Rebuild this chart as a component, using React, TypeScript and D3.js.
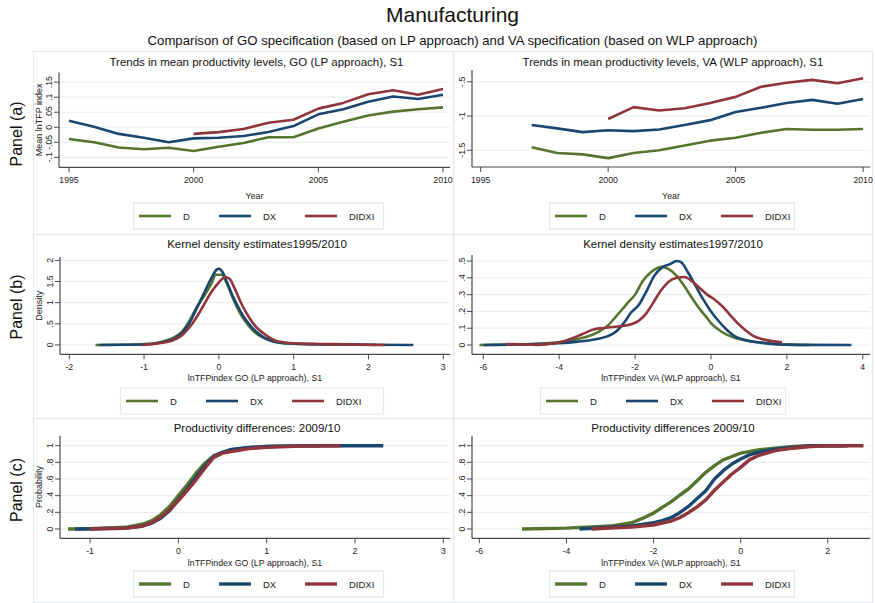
import React from 'react';
import * as d3 from 'd3';

const W = 875;
const H = 603;
const FONT = '"Liberation Sans", Arial, Helvetica, sans-serif';

const seriesNames = ['D', 'DX', 'DIDXI'];
const seriesColors = ['#55752f', '#1a476f', '#90353b'];

// Panel (a): mean productivity levels by year
const goYears = [1995, 1996, 1997, 1998, 1999, 2000, 2001, 2002, 2003, 2004, 2005, 2006, 2007, 2008, 2009, 2010];
const goD = [-0.039, -0.05, -0.067, -0.073, -0.068, -0.079, -0.065, -0.052, -0.033, -0.033, -0.004, 0.018, 0.039, 0.052, 0.06, 0.066];
const goDX = [0.022, 0.002, -0.022, -0.035, -0.05, -0.037, -0.035, -0.029, -0.016, 0.004, 0.043, 0.06, 0.085, 0.102, 0.094, 0.108];
const goDidxiYears = [2000, 2001, 2002, 2003, 2004, 2005, 2006, 2007, 2008, 2009, 2010];
const goDIDXI = [-0.022, -0.016, -0.006, 0.015, 0.025, 0.062, 0.081, 0.11, 0.123, 0.108, 0.127];

const vaYears = [1997, 1998, 1999, 2000, 2001, 2002, 2003, 2004, 2005, 2006, 2007, 2008, 2009, 2010];
const vaD = [-1.457, -1.54, -1.56, -1.615, -1.54, -1.5, -1.43, -1.36, -1.317, -1.245, -1.19, -1.2, -1.2, -1.19];
const vaDX = [-1.13, -1.18, -1.235, -1.207, -1.22, -1.197, -1.13, -1.06, -0.94, -0.88, -0.81, -0.764, -0.82, -0.75];
const vaDidxiYears = [2000, 2001, 2002, 2003, 2004, 2005, 2006, 2007, 2008, 2009, 2010];
const vaDIDXI = [-1.043, -0.87, -0.918, -0.885, -0.81, -0.72, -0.572, -0.514, -0.471, -0.52, -0.447];

// Panel (b): kernel density estimates, [lnTFP, density]
const kdGoD: [number, number][] = [
  [-1.65, 0], [-1.2, 0.005], [-1.0, 0.02], [-0.8, 0.06], [-0.6, 0.18], [-0.5, 0.3], [-0.4, 0.55], [-0.3, 0.88],
  [-0.2, 1.15], [-0.1, 1.45], [-0.04, 1.66], [0.04, 1.66], [0.1, 1.48], [0.2, 1.05], [0.3, 0.7], [0.4, 0.45],
  [0.5, 0.27], [0.6, 0.17], [0.7, 0.1], [0.8, 0.06], [1.0, 0.03], [1.2, 0.02], [1.5, 0.01], [1.8, 0.005], [2.1, 0],
];
const kdGoDX: [number, number][] = [
  [-1.6, 0], [-1.0, 0.01], [-0.8, 0.05], [-0.6, 0.15], [-0.5, 0.27], [-0.4, 0.5], [-0.3, 0.85], [-0.2, 1.22],
  [-0.1, 1.58], [-0.03, 1.78], [0.0, 1.8], [0.05, 1.72], [0.1, 1.52], [0.2, 1.1], [0.3, 0.76], [0.4, 0.5],
  [0.5, 0.31], [0.6, 0.18], [0.7, 0.1], [0.8, 0.06], [1.0, 0.03], [1.5, 0.01], [2.0, 0.003], [2.6, 0],
];
const kdGoDIDXI: [number, number][] = [
  [-1.02, 0], [-0.8, 0.04], [-0.6, 0.12], [-0.5, 0.22], [-0.4, 0.4], [-0.3, 0.65], [-0.2, 0.95], [-0.1, 1.25],
  [0.0, 1.48], [0.05, 1.57], [0.1, 1.6], [0.15, 1.55], [0.2, 1.38], [0.3, 0.98], [0.4, 0.66], [0.5, 0.42],
  [0.6, 0.27], [0.7, 0.15], [0.8, 0.08], [1.0, 0.04], [1.5, 0.02], [2.0, 0.005], [2.22, 0],
];
const kdVaD: [number, number][] = [
  [-6.1, 0], [-5, 0.004], [-4, 0.016], [-3.5, 0.036], [-3, 0.074], [-2.7, 0.12], [-2.5, 0.17], [-2.2, 0.25],
  [-2, 0.3], [-1.8, 0.38], [-1.6, 0.43], [-1.4, 0.46], [-1.3, 0.465], [-1.1, 0.45], [-0.9, 0.41], [-0.7, 0.35],
  [-0.5, 0.28], [-0.3, 0.215], [-0.1, 0.16], [0, 0.13], [0.3, 0.076], [0.6, 0.044], [1.0, 0.024], [1.5, 0.01],
  [2, 0.002], [2.6, 0],
];
const kdVaDX: [number, number][] = [
  [-6.0, 0], [-5, 0.003], [-4, 0.01], [-3.5, 0.02], [-3, 0.036], [-2.7, 0.054], [-2.5, 0.08], [-2.3, 0.13],
  [-2.1, 0.195], [-1.9, 0.24], [-1.7, 0.32], [-1.5, 0.41], [-1.3, 0.46], [-1.1, 0.48], [-0.9, 0.5], [-0.8, 0.495],
  [-0.6, 0.43], [-0.4, 0.35], [-0.2, 0.27], [0, 0.2], [0.2, 0.143], [0.4, 0.094], [0.6, 0.056], [0.9, 0.03],
  [1.3, 0.014], [1.8, 0.004], [2.5, 0.001], [3.7, 0],
];
const kdVaDIDXI: [number, number][] = [
  [-5.4, 0.005], [-5, 0.004], [-4.6, 0.001], [-4.2, 0.008], [-4, 0.016], [-3.7, 0.036], [-3.4, 0.064],
  [-3.1, 0.092], [-2.9, 0.1], [-2.6, 0.107], [-2.3, 0.115], [-2.1, 0.124], [-1.9, 0.145], [-1.7, 0.19],
  [-1.5, 0.26], [-1.3, 0.33], [-1.1, 0.38], [-0.9, 0.4], [-0.7, 0.405], [-0.5, 0.38], [-0.3, 0.34], [-0.1, 0.3],
  [0.1, 0.27], [0.3, 0.23], [0.5, 0.18], [0.7, 0.13], [0.9, 0.09], [1.1, 0.056], [1.4, 0.032], [1.7, 0.02],
  [1.87, 0.016],
];

// Panel (c): cumulative distributions, [lnTFP, probability]
const cdGoD: [number, number][] = [
  [-1.25, 0], [-1.0, 0.003], [-0.6, 0.02], [-0.4, 0.06], [-0.3, 0.1], [-0.2, 0.17], [-0.1, 0.27], [0, 0.4],
  [0.1, 0.53], [0.2, 0.67], [0.3, 0.79], [0.4, 0.88], [0.5, 0.92], [0.6, 0.95], [0.8, 0.975], [1.0, 0.99],
  [1.4, 1.0], [1.6, 1.0],
];
const cdGoDX: [number, number][] = [
  [-1.17, 0], [-0.6, 0.01], [-0.4, 0.036], [-0.3, 0.07], [-0.2, 0.13], [-0.1, 0.22], [0, 0.35], [0.1, 0.48],
  [0.2, 0.62], [0.3, 0.76], [0.4, 0.87], [0.5, 0.92], [0.6, 0.955], [0.8, 0.98], [1.0, 0.99], [1.5, 1.0],
  [2.32, 1.0],
];
const cdGoDIDXI: [number, number][] = [
  [-1.0, 0], [-0.6, 0.008], [-0.4, 0.036], [-0.3, 0.076], [-0.2, 0.14], [-0.1, 0.23], [0, 0.34], [0.1, 0.46],
  [0.2, 0.59], [0.3, 0.73], [0.4, 0.86], [0.5, 0.91], [0.6, 0.93], [0.8, 0.965], [1.0, 0.98], [1.4, 0.995],
  [1.83, 1.0],
];
const cdVaD: [number, number][] = [
  [-5.02, 0], [-4, 0.01], [-3, 0.035], [-2.5, 0.075], [-2.2, 0.14], [-2, 0.19], [-1.8, 0.26], [-1.6, 0.325],
  [-1.4, 0.405], [-1.2, 0.48], [-1.0, 0.58], [-0.8, 0.68], [-0.6, 0.76], [-0.4, 0.83], [-0.2, 0.87], [0, 0.91],
  [0.4, 0.95], [0.8, 0.97], [1.2, 0.99], [1.6, 1.0], [2.4, 1.0],
];
const cdVaDX: [number, number][] = [
  [-3.7, 0], [-3, 0.02], [-2.5, 0.036], [-2, 0.075], [-1.8, 0.1], [-1.6, 0.135], [-1.4, 0.195], [-1.2, 0.27],
  [-1.0, 0.365], [-0.8, 0.46], [-0.6, 0.6], [-0.4, 0.7], [-0.2, 0.78], [0, 0.84], [0.2, 0.89], [0.4, 0.92],
  [0.8, 0.96], [1.2, 0.98], [1.6, 1.0], [2.46, 1.0],
];
const cdVaDIDXI: [number, number][] = [
  [-3.42, 0], [-3, 0.012], [-2.5, 0.024], [-2, 0.048], [-1.6, 0.095], [-1.4, 0.135], [-1.2, 0.195],
  [-1.0, 0.265], [-0.8, 0.35], [-0.6, 0.465], [-0.4, 0.565], [-0.2, 0.66], [0, 0.74], [0.2, 0.83], [0.4, 0.88],
  [0.6, 0.91], [0.8, 0.94], [1.2, 0.97], [1.6, 0.99], [2.0, 1.0], [2.82, 1.0],
];

// Axis ticks
const yearTicks = [1995, 2000, 2005, 2010];
const goLevelTicks = [-0.1, -0.05, 0, 0.05, 0.1, 0.15];
const vaLevelTicks = [-1.5, -1, -0.5];
const goDensityX = [-2, -1, 0, 1, 2, 3];
const goDensityY = [0, 0.5, 1, 1.5, 2];
const vaDensityX = [-6, -4, -2, 0, 2, 4];
const vaDensityY = [0, 0.1, 0.2, 0.3, 0.4, 0.5];
const goCdfX = [-1, 0, 1, 2, 3];
const vaCdfX = [-6, -4, -2, 0, 2];
const probTicks = [0, 0.2, 0.4, 0.6, 0.8, 1];

const zip = (xs: number[], ys: number[]): [number, number][] => xs.map((x, i) => [x, ys[i]]);

const fmt = (v: number) => String(v).replace(/^(-?)0\./, '$1.');

type Series = { pts: [number, number][] };

type PanelProps = {
  frame: [number, number, number, number];
  plot: { l: number; r: number; t: number; b: number };
  xDomain: [number, number];
  yDomain: [number, number];
  xTicks: number[];
  yTicks: number[];
  title: string;
  titleY: number;
  xTitle: string;
  xTitleY: number;
  yTitle?: string;
  series: Series[];
  legend: { x: number; y: number; w: number };
  lineWidth: number;
  smooth: boolean;
};

const GRID = '#e8eff1';
const FRAME = '#e2eaec';
const AXIS = '#4a4a4a';

function Panel(p: PanelProps) {
  const { plot } = p;
  const x = d3.scaleLinear().domain(p.xDomain).range([plot.l, plot.r]);
  const y = d3.scaleLinear().domain(p.yDomain).range([plot.b, plot.t]);
  const line = d3
    .line<[number, number]>()
    .x((d) => x(d[0]))
    .y((d) => y(d[1]))
    .curve(p.smooth ? d3.curveMonotoneX : d3.curveLinear);
  const [fx0, fy0, fx1, fy1] = p.frame;
  const cx = (plot.l + plot.r) / 2;
  const legItems = [6, 86, 172];
  const legH = 26;
  return (
    <g>
      <rect x={fx0 + 0.5} y={fy0 + 0.5} width={fx1 - fx0} height={fy1 - fy0} fill="none" stroke={FRAME} strokeWidth={1.2} />
      <text x={cx + 2} y={p.titleY} textAnchor="middle" fontSize={11.5} fill="#111">
        {p.title}
      </text>
      {p.yTicks.map((t) => (
        <line key={'g' + t} x1={plot.l} x2={plot.r} y1={y(t)} y2={y(t)} stroke={GRID} strokeWidth={1.2} />
      ))}
      {p.series.map((s, i) => (
        <path
          key={'s' + i}
          d={line(s.pts) || ''}
          fill="none"
          stroke={seriesColors[i]}
          strokeWidth={p.lineWidth}
          strokeLinejoin="round"
          strokeLinecap="butt"
        />
      ))}
      <line x1={plot.l} x2={plot.l} y1={plot.t} y2={plot.b} stroke={AXIS} strokeWidth={1.2} />
      <line x1={plot.l} x2={plot.r} y1={plot.b} y2={plot.b} stroke={AXIS} strokeWidth={1.2} />
      {p.yTicks.map((t) => (
        <g key={'yt' + t}>
          <line x1={plot.l - 5} x2={plot.l} y1={y(t)} y2={y(t)} stroke={AXIS} strokeWidth={1} />
          <text
            transform={`translate(${plot.l - 7},${y(t)}) rotate(-90)`}
            textAnchor="middle"
            fontSize={8.7}
            fill="#222"
          >
            {fmt(t)}
          </text>
        </g>
      ))}
      {p.xTicks.map((t) => (
        <g key={'xt' + t}>
          <line x1={x(t)} x2={x(t)} y1={plot.b} y2={plot.b + 5} stroke={AXIS} strokeWidth={1} />
          <text x={x(t)} y={plot.b + 15.5} textAnchor="middle" fontSize={8.7} fill="#222">
            {fmt(t)}
          </text>
        </g>
      ))}
      <text x={cx} y={p.xTitleY} textAnchor="middle" fontSize={8.8} fill="#222">
        {p.xTitle}
      </text>
      {p.yTitle && (
        <text transform={`translate(42,${(plot.t + plot.b) / 2}) rotate(-90)`} textAnchor="middle" fontSize={9} fill="#222">
          {p.yTitle}
        </text>
      )}
      <g transform={`translate(${p.legend.x},${p.legend.y})`}>
        <rect x={0.5} y={0.5} width={p.legend.w} height={legH} fill="#fff" stroke={FRAME} strokeWidth={1.2} />
        {seriesNames.map((name, i) => (
          <g key={name}>
            <line
              x1={legItems[i]}
              x2={legItems[i] + 32}
              y1={legH / 2 + 0.5}
              y2={legH / 2 + 0.5}
              stroke={seriesColors[i]}
              strokeWidth={p.lineWidth}
            />
            <text x={legItems[i] + 44} y={legH / 2 + 4} fontSize={9.5} fill="#222">
              {name}
            </text>
          </g>
        ))}
      </g>
    </g>
  );
}

const LX0 = 33;
const MID = 453;
const RX1 = 872;
const ROWS = [
  [51, 234],
  [234, 418],
  [418, 602],
];

export default function App() {
  const panels: PanelProps[] = [
    {
      frame: [LX0, ROWS[0][0], MID, ROWS[0][1]],
      plot: { l: 59, r: 450, t: 72.5, b: 167.3 },
      xDomain: [1994.6, 2010.28],
      yDomain: [-0.133, 0.182],
      xTicks: yearTicks,
      yTicks: goLevelTicks,
      title: 'Trends in mean productivity levels, GO (LP approach), S1',
      titleY: 66,
      xTitle: 'Year',
      xTitleY: 198.5,
      yTitle: 'Mean lnTFP index',
      series: [{ pts: zip(goYears, goD) }, { pts: zip(goYears, goDX) }, { pts: zip(goDidxiYears, goDIDXI) }],
      legend: { x: 133, y: 202.5, w: 250 },
      lineWidth: 2.6,
      smooth: false,
    },
    {
      frame: [MID, ROWS[0][0], RX1, ROWS[0][1]],
      plot: { l: 472, r: 870, t: 70, b: 167 },
      xDomain: [1994.66, 2010.27],
      yDomain: [-1.745, -0.327],
      xTicks: yearTicks,
      yTicks: vaLevelTicks,
      title: 'Trends in mean productivity levels, VA (WLP approach), S1',
      titleY: 66,
      xTitle: 'Year',
      xTitleY: 198.5,
      series: [{ pts: zip(vaYears, vaD) }, { pts: zip(vaYears, vaDX) }, { pts: zip(vaDidxiYears, vaDIDXI) }],
      legend: { x: 549, y: 202.5, w: 245 },
      lineWidth: 2.6,
      smooth: false,
    },
    {
      frame: [LX0, ROWS[1][0], MID, ROWS[1][1]],
      plot: { l: 60, r: 450, t: 257, b: 354.3 },
      xDomain: [-2.124, 3.09],
      yDomain: [-0.221, 2.079],
      xTicks: goDensityX,
      yTicks: goDensityY,
      title: 'Kernel density estimates1995/2010',
      titleY: 247.5,
      xTitle: 'lnTFPindex GO (LP approach), S1',
      xTitleY: 381,
      yTitle: 'Density',
      series: [{ pts: kdGoD }, { pts: kdGoDX }, { pts: kdGoDIDXI }],
      legend: { x: 120, y: 387.5, w: 263 },
      lineWidth: 2.6,
      smooth: true,
    },
    {
      frame: [MID, ROWS[1][0], RX1, ROWS[1][1]],
      plot: { l: 472, r: 870, t: 255, b: 354.3 },
      xDomain: [-6.298, 4.19],
      yDomain: [-0.0554, 0.536],
      xTicks: vaDensityX,
      yTicks: vaDensityY,
      title: 'Kernel density estimates1997/2010',
      titleY: 247.5,
      xTitle: 'lnTFPindex VA (WLP approach), S1',
      xTitleY: 381,
      series: [{ pts: kdVaD }, { pts: kdVaDX }, { pts: kdVaDIDXI }],
      legend: { x: 540, y: 387.5, w: 245 },
      lineWidth: 2.6,
      smooth: true,
    },
    {
      frame: [LX0, ROWS[2][0], MID, ROWS[2][1]],
      plot: { l: 60, r: 450, t: 435.7, b: 538.3 },
      xDomain: [-1.34, 3.075],
      yDomain: [-0.112, 1.12],
      xTicks: goCdfX,
      yTicks: probTicks,
      title: 'Productivity differences: 2009/10',
      titleY: 431.5,
      xTitle: 'lnTFPindex GO (LP approach), S1',
      xTitleY: 566,
      yTitle: 'Probability',
      series: [{ pts: cdGoD }, { pts: cdGoDX }, { pts: cdGoDIDXI }],
      legend: { x: 133, y: 570.5, w: 250 },
      lineWidth: 3.4,
      smooth: false,
    },
    {
      frame: [MID, ROWS[2][0], RX1, ROWS[2][1]],
      plot: { l: 472, r: 870, t: 435.7, b: 538.3 },
      xDomain: [-6.168, 2.97],
      yDomain: [-0.112, 1.12],
      xTicks: vaCdfX,
      yTicks: probTicks,
      title: 'Productivity differences 2009/10',
      titleY: 431.5,
      xTitle: 'lnTFPindex VA (WLP approach), S1',
      xTitleY: 566,
      series: [{ pts: cdVaD }, { pts: cdVaDX }, { pts: cdVaDIDXI }],
      legend: { x: 549, y: 570.5, w: 245 },
      lineWidth: 3.4,
      smooth: false,
    },
  ];
  const panelLabels: [string, number][] = [
    ['Panel (a)', 134],
    ['Panel (b)', 307],
    ['Panel (c)', 490],
  ];
  const headX = (LX0 + RX1) / 2;
  return (
    <svg
      width={W}
      height={H}
      viewBox={`0 0 ${W} ${H}`}
      style={{ position: 'absolute', left: 0, top: 0, background: '#fff' }}
      fontFamily={FONT}
    >
      <rect x={0} y={0} width={W} height={H} fill="#fff" />
      <text x={headX} y={22} textAnchor="middle" fontSize={21} fill="#111">
        Manufacturing
      </text>
      <text x={headX} y={44.5} textAnchor="middle" fontSize={13.2} fill="#111">
        Comparison of GO specification (based on LP approach) and VA specification (based on WLP approach)
      </text>
      {panelLabels.map(([label, cy]) => (
        <text key={label} transform={`translate(22,${cy}) rotate(-90)`} textAnchor="middle" fontSize={16} fill="#111">
          {label}
        </text>
      ))}
      {panels.map((p, i) => (
        <Panel key={i} {...p} />
      ))}
    </svg>
  );
}
